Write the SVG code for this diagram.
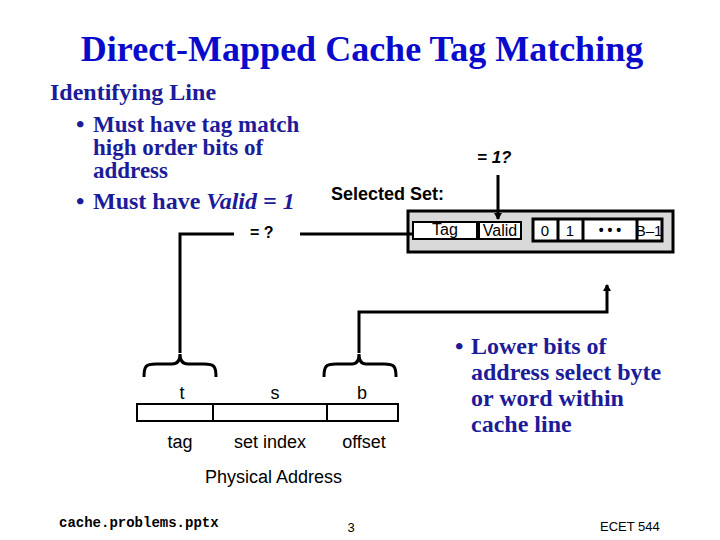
<svg xmlns="http://www.w3.org/2000/svg" width="720" height="540" viewBox="0 0 720 540">
<defs>
<style>
.title{font-family:"Liberation Serif",serif;font-weight:bold;font-size:36px;fill:#0a0acc}
.body{font-family:"Liberation Serif",serif;font-weight:bold;font-size:24px;fill:#1c1c99}
.lbl{font-family:"Liberation Sans",Arial,sans-serif;font-size:18px;fill:#000}
.lblb{font-family:"Liberation Sans",Arial,sans-serif;font-weight:bold;fill:#000}
.cell{font-family:"Liberation Sans",Arial,sans-serif;fill:#000}
.wire{fill:none;stroke:#000;stroke-width:3}
.box{fill:#fff;stroke:#000;stroke-width:2}
.foot{fill:#000}
</style>
<marker id="arr" markerWidth="8" markerHeight="8" refX="6" refY="4" orient="auto" markerUnits="userSpaceOnUse">
<path d="M0,0 L7,4 L0,8 Z" fill="#000"/>
</marker>
</defs>
<rect width="720" height="540" fill="#fff"/>

<text class="title" x="362" y="61" text-anchor="middle">Direct-Mapped Cache Tag Matching</text>

<g id="bullets-left">
<text class="body" x="50" y="100">Identifying Line</text>
<text class="body" x="76" y="132">•</text>
<text class="body" x="93" y="132" style="font-size:23px">Must have tag match</text>
<text class="body" x="93" y="155" style="font-size:23px">high order bits of</text>
<text class="body" x="93" y="178" style="font-size:23px">address</text>
<text class="body" x="76" y="209">•</text>
<text class="body" x="93" y="209">Must have <tspan font-style="italic">Valid = 1</tspan></text>
</g>

<g id="bullets-right">
<text class="body" x="455" y="354">•</text>
<text class="body" x="471" y="354">Lower bits of</text>
<text class="body" x="471" y="380">address select byte</text>
<text class="body" x="471" y="406">or word within</text>
<text class="body" x="471" y="432">cache line</text>
</g>

<g id="selected-set">
<text class="lblb" x="331" y="200" style="font-size:18px">Selected Set:</text>
<rect x="408" y="211" width="265" height="41" fill="#d9d9d9" stroke="#000" stroke-width="3"/>
<g id="tag-cell">
<rect class="box" x="413" y="222" width="64" height="17"/>
<text class="cell" x="445" y="235" text-anchor="middle" style="font-size:16px">Tag</text>
</g>
<g id="valid-cell">
<rect class="box" x="479" y="222" width="42" height="17"/>
<text class="cell" x="500" y="236" text-anchor="middle" style="font-size:16px">Valid</text>
</g>
<g id="bytes">
<rect x="533" y="219" width="129" height="22" fill="#fff" stroke="#000" stroke-width="3"/>
<line x1="558" y1="219" x2="558" y2="241" stroke="#000" stroke-width="3"/>
<line x1="583" y1="219" x2="583" y2="241" stroke="#000" stroke-width="3"/>
<line x1="637" y1="219" x2="637" y2="241" stroke="#000" stroke-width="3"/>
<text class="cell" x="545" y="236" text-anchor="middle" style="font-size:15px">0</text>
<text class="cell" x="570" y="236" text-anchor="middle" style="font-size:15px">1</text>
<text class="cell" x="610" y="235" text-anchor="middle" style="font-size:14px;font-weight:bold">• • •</text>
<text class="cell" x="649" y="236" text-anchor="middle" style="font-size:15px">B–1</text>
</g>
</g>

<g id="address">
<rect class="box" x="137" y="404" width="76" height="17"/>
<rect class="box" x="213" y="404" width="114" height="17"/>
<rect class="box" x="327" y="404" width="71" height="17"/>
<text class="lbl" x="182" y="399" text-anchor="middle">t</text>
<text class="lbl" x="275" y="399" text-anchor="middle">s</text>
<text class="lbl" x="362" y="399" text-anchor="middle">b</text>
<text class="lbl" x="180" y="448" text-anchor="middle">tag</text>
<text class="lbl" x="270" y="448" text-anchor="middle">set index</text>
<text class="lbl" x="364" y="448" text-anchor="middle">offset</text>
<text class="lbl" x="205" y="483">Physical Address</text>
</g>

<g id="labels">
<text class="lblb" x="477" y="163" style="font-size:17px;font-style:italic">= 1?</text>
<text class="lblb" x="250" y="238" style="font-size:16px">= ?</text>
</g>

<g id="connectors">
<path class="wire" d="M498,175 V219" marker-end="url(#arr)"/>
<path class="wire" d="M234,234 H180 V353"/>
<path class="wire" d="M300,234 H413"/>
<path class="wire" d="M359,353 V312 H607 V285" marker-end="url(#arr)"/>
<path class="wire" d="M144,377 C144,366 146,364 156,364 H172 C178,364 180,360 180,354 C180,360 182,364 188,364 H204 C214,364 216,366 216,377"/>
<path class="wire" d="M324,377 C324,366 326,364 336,364 H352 C357,364 359,360 359,354 C359,360 361,364 366,364 H384 C394,364 396,366 396,377"/>
</g>

<g id="footer">
<text class="foot" x="59" y="527" style="font-family:'Liberation Mono',monospace;font-weight:bold;font-size:14px">cache.problems.pptx</text>
<text class="foot" x="351" y="532" text-anchor="middle" style="font-family:'Liberation Sans',sans-serif;font-size:13px">3</text>
<text class="foot" x="600" y="531" style="font-family:'Liberation Sans Narrow','Liberation Sans',sans-serif;font-size:13px">ECET 544</text>
</g>
</svg>
